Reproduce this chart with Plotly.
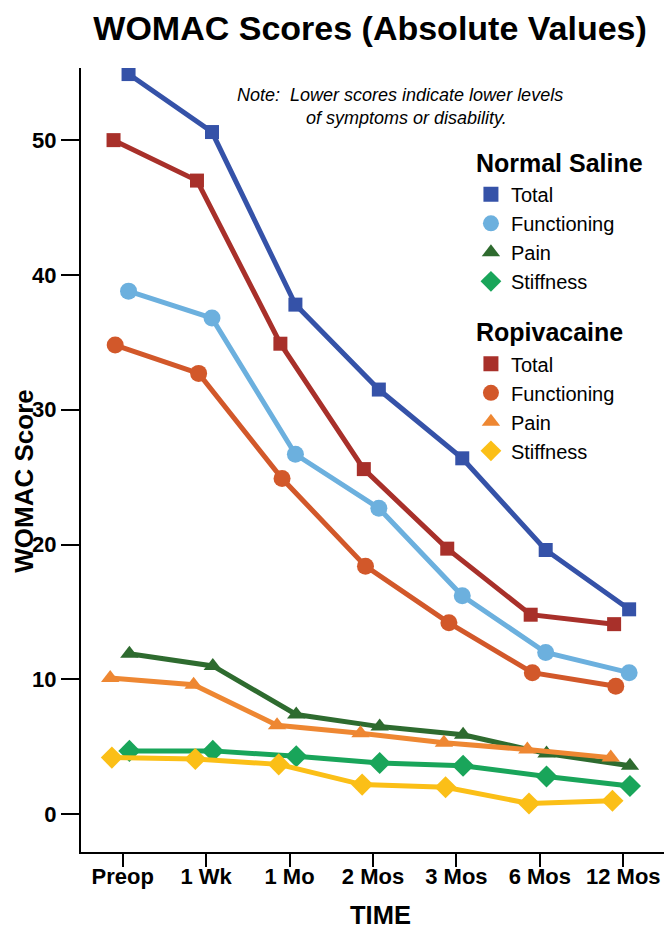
import plotly.graph_objects as go

# Категории по оси X
categories = ["Preop", "1 Wk", "1 Mo", "2 Mos", "3 Mos", "6 Mos", "12 Mos"]
y_ticks = [0, 10, 20, 30, 40, 50]

# Normal Saline
saline_total = [54.9, 50.6, 37.8, 31.5, 26.4, 19.6, 15.2]
saline_functioning = [38.8, 36.8, 26.7, 22.7, 16.2, 12.0, 10.5]
saline_pain = [11.9, 11.0, 7.4, 6.5, 5.9, 4.5, 3.6]
saline_stiffness = [4.7, 4.7, 4.3, 3.8, 3.6, 2.8, 2.1]

# Ropivacaine
ropi_total = [50.0, 47.0, 34.9, 25.6, 19.7, 14.8, 14.1]
ropi_functioning = [34.8, 32.7, 24.9, 18.4, 14.2, 10.5, 9.5]
ropi_pain = [10.1, 9.6, 6.6, 6.0, 5.3, 4.8, 4.2]
ropi_stiffness = [4.2, 4.1, 3.7, 2.2, 2.0, 0.8, 1.0]

FONT = "Liberation Sans, Arial, sans-serif"

# (группа, подпись, значения, цвет, символ, размер маркера, сдвиг по x)
series = [
    ("saline", "Total", saline_total, "#3552a8", "square", 14, 0.07),
    ("saline", "Functioning", saline_functioning, "#6cb0de", "circle", 17, 0.07),
    ("saline", "Pain", saline_pain, "#2e6b2f", "triangle-up", 16, 0.08),
    ("saline", "Stiffness", saline_stiffness, "#19a55a", "diamond", 17, 0.08),
    ("ropi", "Total", ropi_total, "#a8302a", "square", 14, -0.11),
    ("ropi", "Functioning", ropi_functioning, "#d2582a", "circle", 17, -0.09),
    ("ropi", "Pain", ropi_pain, "#ee8732", "triangle-up", 16, -0.15),
    ("ropi", "Stiffness", ropi_stiffness, "#fbbf17", "diamond", 17, -0.13),
]

group_titles = {"saline": "<b>Normal Saline</b>", "ropi": "<b>Ropivacaine</b>"}

fig = go.Figure()

# Линии с маркерами
for group, name, values, color, symbol, size, shift in series:
    fig.add_trace(go.Scatter(
        x=[i + shift for i in range(len(categories))],
        y=values,
        mode="lines+markers",
        line=dict(color=color, width=5),
        marker=dict(symbol=symbol, size=size, color=color),
        showlegend=False,
        hovertemplate=name + ": %{y}<extra></extra>"
    ))

# Легенда только из маркеров
for group, name, values, color, symbol, size, shift in series:
    fig.add_trace(go.Scatter(
        x=[None],
        y=[None],
        mode="markers",
        name=name,
        legendgroup=group,
        legendgrouptitle=dict(text=group_titles[group],
                              font=dict(size=25, color="black", family=FONT)),
        marker=dict(symbol=symbol, size=size + 1, color=color),
        showlegend=True
    ))

# Примечание
fig.add_annotation(
    text="<i>Note:  Lower scores indicate lower levels</i>",
    xref="paper", yref="paper", x=0.2637, y=0.9656,
    xanchor="left", yanchor="middle", showarrow=False,
    font=dict(size=18, color="black", family=FONT)
)
fig.add_annotation(
    text="<i>of symptoms or disability.</i>",
    xref="paper", yref="paper", x=0.3818, y=0.9362,
    xanchor="left", yanchor="middle", showarrow=False,
    font=dict(size=18, color="black", family=FONT)
)

# Подписи осей
fig.add_annotation(
    text="<b>TIME</b>",
    xref="paper", yref="paper", x=0.512, y=-0.0804,
    xanchor="center", yanchor="middle", showarrow=False,
    font=dict(size=25.5, color="black", family=FONT)
)
fig.add_annotation(
    text="<b>WOMAC Score</b>",
    xref="paper", yref="paper", x=-0.0967, y=0.473,
    xanchor="center", yanchor="middle", showarrow=False, textangle=-90,
    font=dict(size=26, color="black", family=FONT)
)

# страница добавляет отступ 8px, поэтому фигура чуть меньше окна
fig.update_layout(
    width=664,
    height=922,
    plot_bgcolor="white",
    paper_bgcolor="white",
    font=dict(family=FONT, color="black"),
    title=dict(
        text="<b>WOMAC Scores (Absolute Values)</b>",
        x=0.495, xref="paper", xanchor="center",
        y=0.9781, yref="container", yanchor="middle",
        font=dict(size=34, color="black", family=FONT)
    ),
    margin=dict(l=73, r=7, t=60, b=78, autoexpand=False),
    showlegend=True,
    legend=dict(
        x=0.6677, y=0.909, xanchor="left", yanchor="top",
        xref="paper", yref="paper",
        traceorder="grouped",
        tracegroupgap=18,
        itemwidth=30,
        font=dict(size=20, color="black", family=FONT),
        bgcolor="rgba(0,0,0,0)"
    )
)

fig.update_xaxes(
    range=[-0.5, 6.5],
    tickvals=list(range(len(categories))),
    ticktext=["<b>" + c + "</b>" for c in categories],
    showline=True, linecolor="black", linewidth=2,
    ticks="outside", ticklen=13, tickwidth=2, tickcolor="black",
    ticklabelstandoff=-9,
    showgrid=False, zeroline=False, automargin=False,
    tickfont=dict(size=22, color="black", family=FONT)
)
fig.update_yaxes(
    range=[-2.8, 55.35],
    tickvals=y_ticks,
    ticktext=["<b>" + str(v) + "</b>" for v in y_ticks],
    showline=True, linecolor="black", linewidth=2,
    ticks="outside", ticklen=18, tickwidth=2, tickcolor="black",
    showgrid=False, zeroline=False, automargin=False,
    tickfont=dict(size=22, color="black", family=FONT)
)

fig.write_html("out.html")
